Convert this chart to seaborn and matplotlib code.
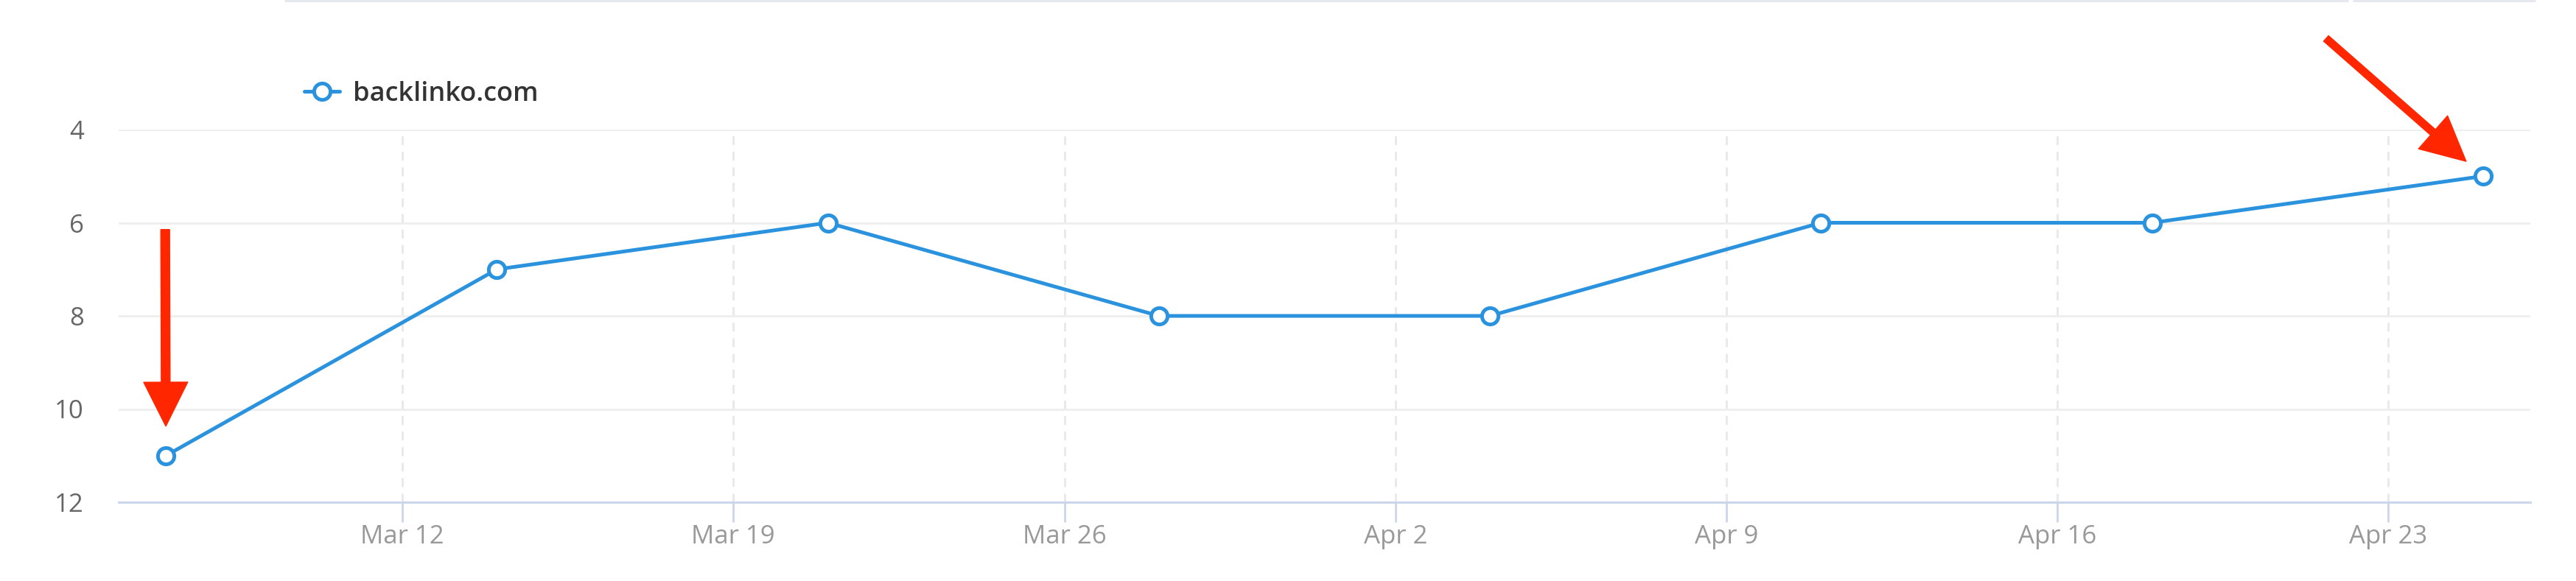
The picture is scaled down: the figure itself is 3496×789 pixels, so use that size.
import pandas as pd
import seaborn as sns
import matplotlib.pyplot as plt
import matplotlib.dates as mdates
from matplotlib.lines import Line2D
from matplotlib.ticker import FuncFormatter

# data
dates = ['2018-03-07', '2018-03-14', '2018-03-21', '2018-03-28',
         '2018-04-04', '2018-04-11', '2018-04-18', '2018-04-25']
ranks = [11, 7, 6, 8, 8, 6, 6, 5]
domain = 'backlinko.com'
y_ticks = [4, 6, 8, 10, 12]
x_start, x_end = '2018-03-06', '2018-04-26'

df = pd.DataFrame({'date': pd.to_datetime(dates), 'rank': ranks})

sns.set_theme(style='white')
plt.rcParams['font.family'] = ['Open Sans', 'DejaVu Sans']

W, H = 3496, 789
fig = plt.figure(figsize=(W / 100, H / 100), dpi=100)
ax = fig.add_axes([161 / W, 1 - 682 / H, (3434 - 161) / W, (682 - 176) / H])

blue = '#2b93de'
line_kw = dict(color=blue, linewidth=3.6, marker='o', markersize=16,
               markerfacecolor='white', markeredgecolor=blue, markeredgewidth=3.6)

sns.lineplot(data=df, x='date', y='rank', ax=ax, legend=False, **line_kw)

# axes
ax.set_xlim(pd.Timestamp(x_start), pd.Timestamp(x_end))
ax.set_ylim(12, 4)
ax.set_yticks(y_ticks)
ax.set_xlabel('')
ax.set_ylabel('')

ax.xaxis.set_major_locator(mdates.WeekdayLocator(byweekday=mdates.MO))
ax.xaxis.set_major_formatter(FuncFormatter(
    lambda v, p: mdates.num2date(v).strftime('%b ') + str(mdates.num2date(v).day)))

for s in ['left', 'right', 'top']:
    ax.spines[s].set_visible(False)
ax.spines['bottom'].set_color('#ccd6eb')
ax.spines['bottom'].set_linewidth(2.2)

ax.yaxis.grid(True, color='#eeeeee', linewidth=2)
ax.xaxis.grid(True, color='#e8e8e8', linewidth=2, linestyle=(0, (4.3, 3.3)))
ax.set_axisbelow(True)

ax.tick_params(axis='y', length=0, pad=34, labelsize=25, labelcolor='#666666')
ax.tick_params(axis='x', length=19.5, width=2, color='#ccd6eb', pad=2,
               labelsize=25, labelcolor='#999999', bottom=True)

# legend
handle = Line2D([], [], **line_kw)
fig.legend([handle], [domain], loc='center left',
           bbox_to_anchor=(413 / W, 1 - 128 / H), frameon=False,
           borderpad=0, borderaxespad=0, handlelength=1.33, handletextpad=0.5,
           prop={'size': 26, 'weight': 'semibold'}, labelcolor='#333333')

# red arrows pointing at the first and last points
red = '#ff2600'
ax.annotate('', xy=(df['date'].iloc[0], ranks[0]), xytext=(-1, 307),
            textcoords='offset pixels',
            arrowprops=dict(arrowstyle='simple,head_length=43,head_width=43,tail_width=8.6',
                            mutation_scale=1, color=red, shrinkA=0, shrinkB=28.8))
ax.annotate('', xy=(df['date'].iloc[-1], ranks[-1]), xytext=(-213, 187),
            textcoords='offset pixels',
            arrowprops=dict(arrowstyle='simple,head_length=43,head_width=43,tail_width=7.2',
                            mutation_scale=1, color=red, shrinkA=0, shrinkB=22))

# faint frame line at the top edge
for x0, x1 in [(387, 3186), (3194, 3440)]:
    fig.add_artist(Line2D([x0 / W, x1 / W], [1 - 1 / H, 1 - 1 / H],
                          transform=fig.transFigure, color='#e3e8ef', linewidth=2))

fig.savefig('out.png', dpi=100)
